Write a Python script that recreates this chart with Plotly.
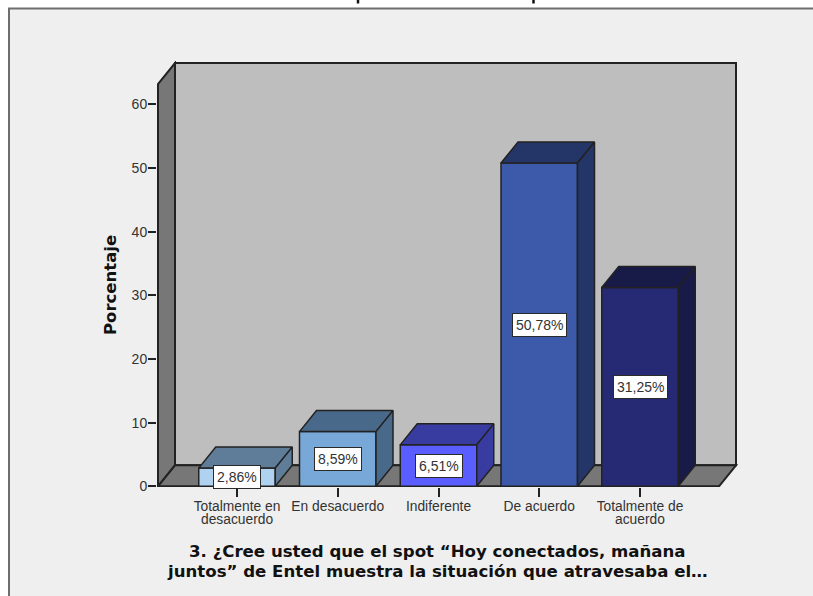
import plotly.graph_objects as go

# Survey responses
categories = ["Totalmente en desacuerdo", "En desacuerdo", "Indiferente", "De acuerdo", "Totalmente de acuerdo"]
first_lines = ["Totalmente en", "En desacuerdo", "Indiferente", "De acuerdo", "Totalmente de"]
second_lines = ["desacuerdo", "", "", "", "acuerdo"]
percentages = [2.86, 8.59, 6.51, 50.78, 31.25]
value_labels = ["2,86%", "8,59%", "6,51%", "50,78%", "31,25%"]
y_ticks = [0, 10, 20, 30, 40, 50, 60]
title_lines = ["3. ¿Cree usted que el spot “Hoy conectados, mañana",
               "juntos” de Entel muestra la situación que atravesaba el…"]
y_title = "Porcentaje"

front_colors = ["#AFD2F0", "#78A8D8", "#5A5EFF", "#3D5AAA", "#262A74"]
shade_colors = ["#5F7D98", "#48698A", "#383CA0", "#243668", "#181A48"]

W, H = 813, 596
# Plot rectangle in page pixels, and the pixel scale of the axes
L, R, T, B = 157, 738, 61, 487
X0_PX, X_STEP = 237.0, 100.75
Y0_PX, Y_STEP = 486.3, 6.365

x_range = [(L - X0_PX) / X_STEP, (R - X0_PX) / X_STEP]
y_range = [(Y0_PX - B) / Y_STEP, (Y0_PX - T) / Y_STEP]

# Oblique projection offset of the 3D box, in axis units
DX = 17 / X_STEP
DY = 21 / Y_STEP
BAR_W = 76.5 / X_STEP
BOX_LEFT = (158 - X0_PX) / X_STEP
BOX_RIGHT = (719 - X0_PX) / X_STEP
BOX_TOP = (Y0_PX - 84) / Y_STEP
EDGE = "#222222"
WALL_BACK = "#BEBEBE"
WALL_SIDE = "#777777"
TITLE_FONT = "DejaVu Sans"
# Stems of a heading line that is cropped by the top of the page
CROPPED_STEMS_PX = [358, 533.5]


def paper_x(px):
    return (px - L) / (R - L)


def paper_y(px):
    return (B - px) / (B - T)


def poly(xs, ys, fill):
    path = "M " + " L ".join(f"{x},{y}" for x, y in zip(xs, ys)) + " Z"
    return dict(type="path", path=path, xref="x", yref="y", fillcolor=fill,
                line=dict(color=EDGE, width=2), layer="below")


shapes = [
    # Page panel with its frame
    dict(type="rect", xref="paper", yref="paper", x0=paper_x(9), x1=paper_x(830),
         y0=paper_y(620), y1=paper_y(8.5), fillcolor="#EFEFEF",
         line=dict(color="#6E6E6E", width=2), layer="below"),
    # Back wall, side wall and floor of the box
    poly([BOX_LEFT + DX, BOX_RIGHT + DX, BOX_RIGHT + DX, BOX_LEFT + DX],
         [DY, DY, BOX_TOP + DY, BOX_TOP + DY], WALL_BACK),
    poly([BOX_LEFT, BOX_LEFT + DX, BOX_LEFT + DX, BOX_LEFT],
         [0, DY, BOX_TOP + DY, BOX_TOP], WALL_SIDE),
    poly([BOX_LEFT, BOX_RIGHT, BOX_RIGHT + DX, BOX_LEFT + DX],
         [0, 0, DY, DY], WALL_SIDE),
]
for px in CROPPED_STEMS_PX:
    shapes.append(dict(type="line", xref="paper", yref="paper",
                       x0=paper_x(px), x1=paper_x(px), y0=paper_y(0), y1=paper_y(3.5),
                       line=dict(color="#111111", width=2.5), layer="below"))

fig = go.Figure()

# Front faces
fig.add_trace(go.Bar(
    x=list(range(len(categories))), y=percentages, width=BAR_W,
    marker=dict(color=front_colors, line=dict(color=EDGE, width=1.5)),
    customdata=categories, hovertemplate="%{customdata}: %{y}%<extra></extra>",
    showlegend=False,
))

# Top and right faces derive from each value
for i, (v, shade) in enumerate(zip(percentages, shade_colors)):
    left, right = i - BAR_W / 2, i + BAR_W / 2
    fig.add_trace(go.Scatter(
        x=[left, right, right + DX, left + DX, left],
        y=[v, v, v + DY, v + DY, v],
        mode="lines", fill="toself", fillcolor=shade,
        line=dict(color=EDGE, width=1.5), hoverinfo="skip", showlegend=False,
    ))
    fig.add_trace(go.Scatter(
        x=[right, right + DX, right + DX, right, right],
        y=[0, DY, v + DY, v, 0],
        mode="lines", fill="toself", fillcolor=shade,
        line=dict(color=EDGE, width=1.5), hoverinfo="skip", showlegend=False,
    ))

annotations = []
for i, (v, text) in enumerate(zip(percentages, value_labels)):
    annotations.append(dict(
        x=i, y=v / 2, xref="x", yref="y", text=text, showarrow=False,
        bgcolor="white", bordercolor="#2A2A2A", borderwidth=1, borderpad=3,
        font=dict(family="Liberation Sans", size=14, color="#333333"),
    ))
for i, text in enumerate(second_lines):
    if text:
        annotations.append(dict(
            x=i, y=paper_y(519.5), xref="x", yref="paper", text=text, showarrow=False,
            xanchor="center", yanchor="middle",
            font=dict(family="Liberation Sans", size=13.8, color="#333333"),
        ))
for text, py in zip(title_lines, [551, 571]):
    annotations.append(dict(
        x=paper_x(437.5), y=paper_y(py), xref="paper", yref="paper", text=f"<b>{text}</b>",
        showarrow=False, xanchor="center", yanchor="middle",
        font=dict(family=TITLE_FONT, size=16.6, color="#111111"),
    ))
annotations.append(dict(
    x=paper_x(110), y=paper_y(285), xref="paper", yref="paper", text=f"<b>{y_title}</b>",
    textangle=-90, showarrow=False, xanchor="center", yanchor="middle",
    font=dict(family=TITLE_FONT, size=16.5, color="#111111"),
))

fig.update_layout(
    width=W, height=H, margin=dict(l=L, r=W - R, t=T, b=H - B),
    paper_bgcolor="white", plot_bgcolor="rgba(0,0,0,0)",
    shapes=shapes, annotations=annotations, showlegend=False,
    font=dict(family="Liberation Sans", size=14, color="#333333"),
    xaxis=dict(range=x_range, tickmode="array", tickvals=list(range(len(categories))),
               ticktext=first_lines, ticks="outside", ticklen=9, tickwidth=1.5, tickcolor=EDGE,
               showgrid=False, zeroline=False, showline=False,
               tickfont=dict(size=13.8), tickangle=0, ticklabelstandoff=-3),
    yaxis=dict(range=y_range, tickmode="array", tickvals=y_ticks, ticks="outside",
               ticklen=8, tickwidth=1.5, tickcolor=EDGE, showgrid=False, zeroline=False,
               showline=False, tickfont=dict(size=14), ticklabelstandoff=-2),
)

fig.write_html("out.html", config={"displayModeBar": False})
